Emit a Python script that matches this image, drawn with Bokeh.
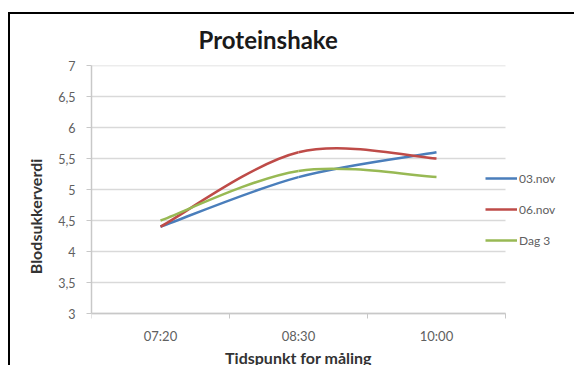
from bokeh.plotting import figure
from bokeh.models import (ColumnDataSource, FixedTicker, Legend, LegendItem,
                          Range1d, Title)
from bokeh.embed import file_html
from bokeh.resources import INLINE

# --- data -------------------------------------------------------------
categories = ["07:20", "08:30", "10:00"]
series_names = ["03.nov", "06.nov", "Dag 3"]
nov03 = [4.4, 5.2, 5.6]
nov06 = [4.4, 5.6, 5.5]
dag3 = [4.5, 5.3, 5.2]
y_ticks = [3, 3.5, 4, 4.5, 5, 5.5, 6, 6.5, 7]
y_tick_labels = ["3", "3,5", "4", "4,5", "5", "5,5", "6", "6,5", "7"]

colors = ["#4A7EBB", "#BE4B48", "#98B954"]
FONT = "Lato"
TICK_GREY = "#606060"

# category centres on a numeric axis (one unit per category)
centres = [i + 0.5 for i in range(len(categories))]
bounds = list(range(len(categories) + 1))
y_min, y_max = y_ticks[0], y_ticks[-1]

# canvas geometry (px): the value area is 414 x 248; the frame itself runs
# on to the right and bottom edges so that the legend and the x-axis texts
# can sit there
W, H = 566, 353
LEFT, TOP = 81, 51
AREA_W, AREA_H = 414, 248
x_end = len(categories) * (W - LEFT) / AREA_W
y_start = y_min - (y_max - y_min) * (H - TOP - AREA_H) / AREA_H


def smooth_segments(xs, ys):
    """Cubic Bezier segments through the points (Catmull-Rom style)."""
    n = len(xs)
    pts = list(zip(xs, ys))
    seg = dict(x0=[], y0=[], x1=[], y1=[], cx0=[], cy0=[], cx1=[], cy1=[])
    for i in range(n - 1):
        p0 = pts[max(i - 1, 0)]
        p1 = pts[i]
        p2 = pts[i + 1]
        p3 = pts[min(i + 2, n - 1)]
        seg["x0"].append(p1[0]); seg["y0"].append(p1[1])
        seg["x1"].append(p2[0]); seg["y1"].append(p2[1])
        seg["cx0"].append(p1[0] + (p2[0] - p0[0]) / 6)
        seg["cy0"].append(p1[1] + (p2[1] - p0[1]) / 6)
        seg["cx1"].append(p2[0] - (p3[0] - p1[0]) / 6)
        seg["cy1"].append(p2[1] - (p3[1] - p1[1]) / 6)
    return seg


p = figure(width=W, height=H, output_backend="svg", toolbar_location=None,
           x_range=Range1d(0, x_end), y_range=Range1d(y_start, y_max),
           min_border_left=LEFT, min_border_right=0,
           min_border_top=TOP, min_border_bottom=0,
           margin=(12, 0, 0, 8),
           styles={"border-top": "2px solid #000",
                   "border-left": "2px solid #000"})
p.outline_line_color = None
p.background_fill_color = "white"
p.border_fill_color = "white"

p.title = Title(text="Proteinshake", align="left", offset=107,
                vertical_align="top", standoff=20,
                text_font=FONT, text_font_size="24px", text_font_style="bold",
                text_color="#1a1a1a")

# horizontal grid lines across the category area only
p.xgrid.grid_line_color = None
p.ygrid.grid_line_color = None
p.segment(x0=0, x1=len(categories), y0=y_ticks, y1=y_ticks,
          line_color="#d9d9d9", line_width=1.5)

# y axis
p.yaxis.ticker = FixedTicker(ticks=y_ticks)
p.yaxis.bounds = (y_min, y_max)
p.yaxis.major_label_overrides = {t: s for t, s in zip(y_ticks, y_tick_labels)}
p.yaxis.axis_label = "Blodsukkerverdi"
p.yaxis.axis_label_text_font = FONT
p.yaxis.axis_label_text_font_size = "16px"
p.yaxis.axis_label_text_font_style = "bold"
p.yaxis.axis_label_text_color = "#333333"
p.yaxis.axis_label_standoff = 10
p.yaxis.major_label_text_font = FONT
p.yaxis.major_label_text_font_size = "12.5px"
p.yaxis.major_label_text_color = TICK_GREY
p.yaxis.major_label_standoff = 11
p.yaxis.axis_line_color = "#c8c8c8"
p.yaxis.axis_line_width = 1.5
p.yaxis.major_tick_line_color = "#c8c8c8"
p.yaxis.major_tick_in = 0
p.yaxis.major_tick_out = 5
p.yaxis.minor_tick_line_color = None

# x axis sits on y = 3: labels at category centres, ticks at boundaries
xa = p.xaxis[0]
xa.fixed_location = y_min
xa.bounds = (0, len(categories))
xa.ticker = FixedTicker(ticks=centres, minor_ticks=bounds)
xa.major_label_overrides = {c: s for c, s in zip(centres, categories)}
xa.axis_label = "Tidspunkt for måling"
xa.axis_label_text_font = FONT
xa.axis_label_text_font_size = "16px"
xa.axis_label_text_font_style = "bold"
xa.axis_label_text_color = "#333333"
xa.axis_label_standoff = 1
xa.major_label_text_font = FONT
xa.major_label_text_font_size = "13px"
xa.major_label_text_color = TICK_GREY
xa.major_label_standoff = 8
xa.axis_line_color = "#c8c8c8"
xa.axis_line_width = 1.5
xa.major_tick_line_color = None
xa.minor_tick_line_color = "#c8c8c8"
xa.minor_tick_in = 0
xa.minor_tick_out = 5

# smoothed series
items = []
for name, vals, col in zip(series_names, [nov03, nov06, dag3], colors):
    src = ColumnDataSource(smooth_segments(centres, vals))
    r = p.bezier(x0="x0", y0="y0", x1="x1", y1="y1", cx0="cx0", cy0="cy0",
                 cx1="cx1", cy1="cy1", source=src, line_color=col,
                 line_width=2.5)
    items.append(LegendItem(label=name, renderers=[r]))

legend = Legend(items=items, location=(394, 117), glyph_width=32,
                glyph_height=20, label_height=20, spacing=11, padding=0,
                margin=0, label_standoff=2, border_line_color=None,
                background_fill_alpha=0, label_text_font=FONT,
                label_text_font_size="12px", label_text_color=TICK_GREY)
p.add_layout(legend)

open("out.html", "w").write(file_html(p, INLINE))
